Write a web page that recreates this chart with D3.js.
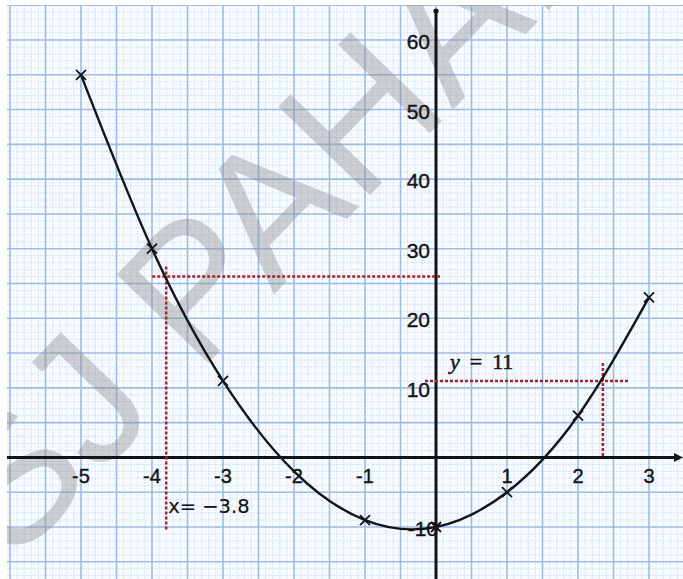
<!DOCTYPE html>
<html>
<head>
<meta charset="utf-8">
<script src="https://cdn.jsdelivr.net/npm/d3@7"></script>
<style>
  html, body { margin: 0; padding: 0; background: #ffffff; }
  svg { display: block; }
</style>
</head>
<body>
<script>
// Table of values for y = 3x² + 2x − 10
const xValues = [-5, -4, -3, -2, -1, 0, 1, 2, 3];
const yValues = [55, 30, 11, -2, -9, -10, -5, 6, 23];
// Points plotted with a cross
const markedX = [-5, -4, -3, -1, 0, 1, 2, 3];

// Axis tick labels
const xTickLabels = [-5, -4, -3, -2, -1, 1, 2, 3];
const yTickLabels = [60, 50, 40, 30, 20, 10, -10];

// Reading lines: x = -3.8 gives y ≈ 26 ; y = 11 gives x ≈ 2.35
const readX = [-3.8];
const readXValue = [26];
const readY = [11];
const readYValue = [2.35];

const W = 683, H = 579;
const svg = d3.select("body").append("svg").attr("width", W).attr("height", H);

const x = d3.scaleLinear().domain([-5, 3]).range([81, 649]);
const y = d3.scaleLinear().domain([-10, 60]).range([527, 40]);

const sans = "Liberation Sans, Arial, Helvetica, sans-serif";
const serif = "Liberation Serif, Times New Roman, serif";
const ink = "#141414";

// Graph paper
const gx0 = 7, gy0 = 5;
svg.append("rect").attr("x", gx0).attr("y", gy0).attr("width", W - gx0).attr("height", H - gy0)
  .attr("fill", "#f7fbff");
svg.append("clipPath").attr("id", "paper").append("rect")
  .attr("x", gx0).attr("y", gy0).attr("width", W - gx0).attr("height", H - gy0);
const grid = svg.append("g").attr("clip-path", "url(#paper)");

const xMinor = d3.range(-62, 36).map(d => d / 10);
const yMinor = d3.range(-18, 67);
const xMajor = d3.range(-12, 8).map(d => d / 2);
const yMajor = d3.range(-4, 14).map(d => d * 5);

grid.selectAll("line.xm").data(xMinor.filter(d => Math.abs(d * 2 - Math.round(d * 2)) > 1e-6))
  .join("line").attr("x1", d => x(d)).attr("x2", d => x(d)).attr("y1", gy0).attr("y2", H)
  .attr("stroke", "#d3e3f6").attr("stroke-width", 1).attr("stroke-dasharray", "2,1");
grid.selectAll("line.ym").data(yMinor.filter(d => d % 5 !== 0))
  .join("line").attr("y1", d => y(d)).attr("y2", d => y(d)).attr("x1", gx0).attr("x2", W)
  .attr("stroke", "#d3e3f6").attr("stroke-width", 1).attr("stroke-dasharray", "2,1");
grid.selectAll("line.xM").data(xMajor)
  .join("line").attr("x1", d => x(d)).attr("x2", d => x(d)).attr("y1", gy0).attr("y2", H)
  .attr("stroke", "#9ebbe8").attr("stroke-width", 1.6);
grid.selectAll("line.yM").data(yMajor)
  .join("line").attr("y1", d => y(d)).attr("y2", d => y(d)).attr("x1", gx0).attr("x2", W)
  .attr("stroke", "#9ebbe8").attr("stroke-width", 1.6);

// Watermark
svg.append("g").attr("clip-path", "url(#paper)")
  .append("text")
  .attr("transform", "translate(12,566) rotate(-46)")
  .attr("font-family", sans)
  .attr("font-size", 185)
  .attr("fill", "#8c8c8c").attr("fill-opacity", 0.4)
  .text("SJ PAHADIA");

// Axes
svg.append("line").attr("x1", gx0).attr("x2", W - 6).attr("y1", y(0)).attr("y2", y(0))
  .attr("stroke", ink).attr("stroke-width", 3);
svg.append("path").attr("d", `M${W} ${y(0)} L${W - 9} ${y(0) - 4.5} L${W - 9} ${y(0) + 4.5} Z`)
  .attr("fill", ink);
svg.append("line").attr("x1", x(0)).attr("x2", x(0)).attr("y1", 11).attr("y2", H)
  .attr("stroke", ink).attr("stroke-width", 3);
svg.append("circle").attr("cx", x(0)).attr("cy", 11).attr("r", 2.6).attr("fill", ink);

// Tick labels
svg.selectAll("text.xl").data(xTickLabels).join("text")
  .attr("x", d => x(d)).attr("y", 483)
  .attr("text-anchor", "middle")
  .attr("font-family", sans).attr("font-size", 20)
  .attr("fill", ink).attr("stroke", ink).attr("stroke-width", 0.4)
  .text(d => d);
svg.selectAll("text.yl").data(yTickLabels).join("text")
  .attr("x", d => d < 0 ? x(0) + 2 : x(0) - 6).attr("y", d => y(d) + 9)
  .attr("text-anchor", "end")
  .attr("font-family", sans).attr("font-size", 21)
  .attr("fill", ink).attr("stroke", ink).attr("stroke-width", 0.4)
  .text(d => d);

// Reading lines
const red = "#ad2029";
const dash = "3,2";
readX.forEach((v, i) => {
  svg.append("line").attr("x1", x(v)).attr("x2", x(v)).attr("y1", y(readXValue[i]) - 10).attr("y2", 530)
    .attr("stroke", red).attr("stroke-width", 2.5).attr("stroke-dasharray", dash);
  svg.append("line").attr("x1", x(v) - 14).attr("x2", x(0) + 4).attr("y1", y(readXValue[i])).attr("y2", y(readXValue[i]))
    .attr("stroke", red).attr("stroke-width", 2.5).attr("stroke-dasharray", dash);
  svg.append("text").attr("x", x(v) + 2).attr("y", 513)
    .attr("font-family", "DejaVu Sans, Verdana, sans-serif").attr("font-size", 19.5)
    .attr("fill", ink).attr("stroke", ink).attr("stroke-width", 0.2)
    .text(`x= −${Math.abs(v)}`);
});
readY.forEach((v, i) => {
  svg.append("line").attr("x1", x(0) - 11).attr("x2", x(readYValue[i]) + 26).attr("y1", y(v)).attr("y2", y(v))
    .attr("stroke", red).attr("stroke-width", 2.5).attr("stroke-dasharray", dash);
  svg.append("line").attr("x1", x(readYValue[i])).attr("x2", x(readYValue[i])).attr("y1", y(v) - 18).attr("y2", y(0))
    .attr("stroke", red).attr("stroke-width", 2.5).attr("stroke-dasharray", dash);
  const t = svg.append("text").attr("x", 450).attr("y", 369)
    .attr("font-family", serif).attr("font-size", 22)
    .attr("fill", ink).attr("stroke", ink).attr("stroke-width", 0.5);
  t.append("tspan").attr("font-style", "italic").text("y");
  t.append("tspan").attr("dx", 10).text("=");
  t.append("tspan").attr("dx", 10).text(`${v}`);
});

// Curve through the table of values
const pts = xValues.map((d, i) => [x(d), y(yValues[i])]);
svg.append("path").attr("d", d3.line().curve(d3.curveNatural)(pts))
  .attr("fill", "none").attr("stroke", ink).attr("stroke-width", 2.4);

// Plotted crosses
const s = 5;
const marked = markedX.map(v => [x(v), y(yValues[xValues.indexOf(v)])]);
svg.selectAll("path.mk").data(marked).join("path")
  .attr("d", d => `M${d[0] - s} ${d[1] - s} L${d[0] + s} ${d[1] + s} M${d[0] - s} ${d[1] + s} L${d[0] + s} ${d[1] - s}`)
  .attr("stroke", ink).attr("stroke-width", 1.8).attr("fill", "none");
</script>
</body>
</html>
